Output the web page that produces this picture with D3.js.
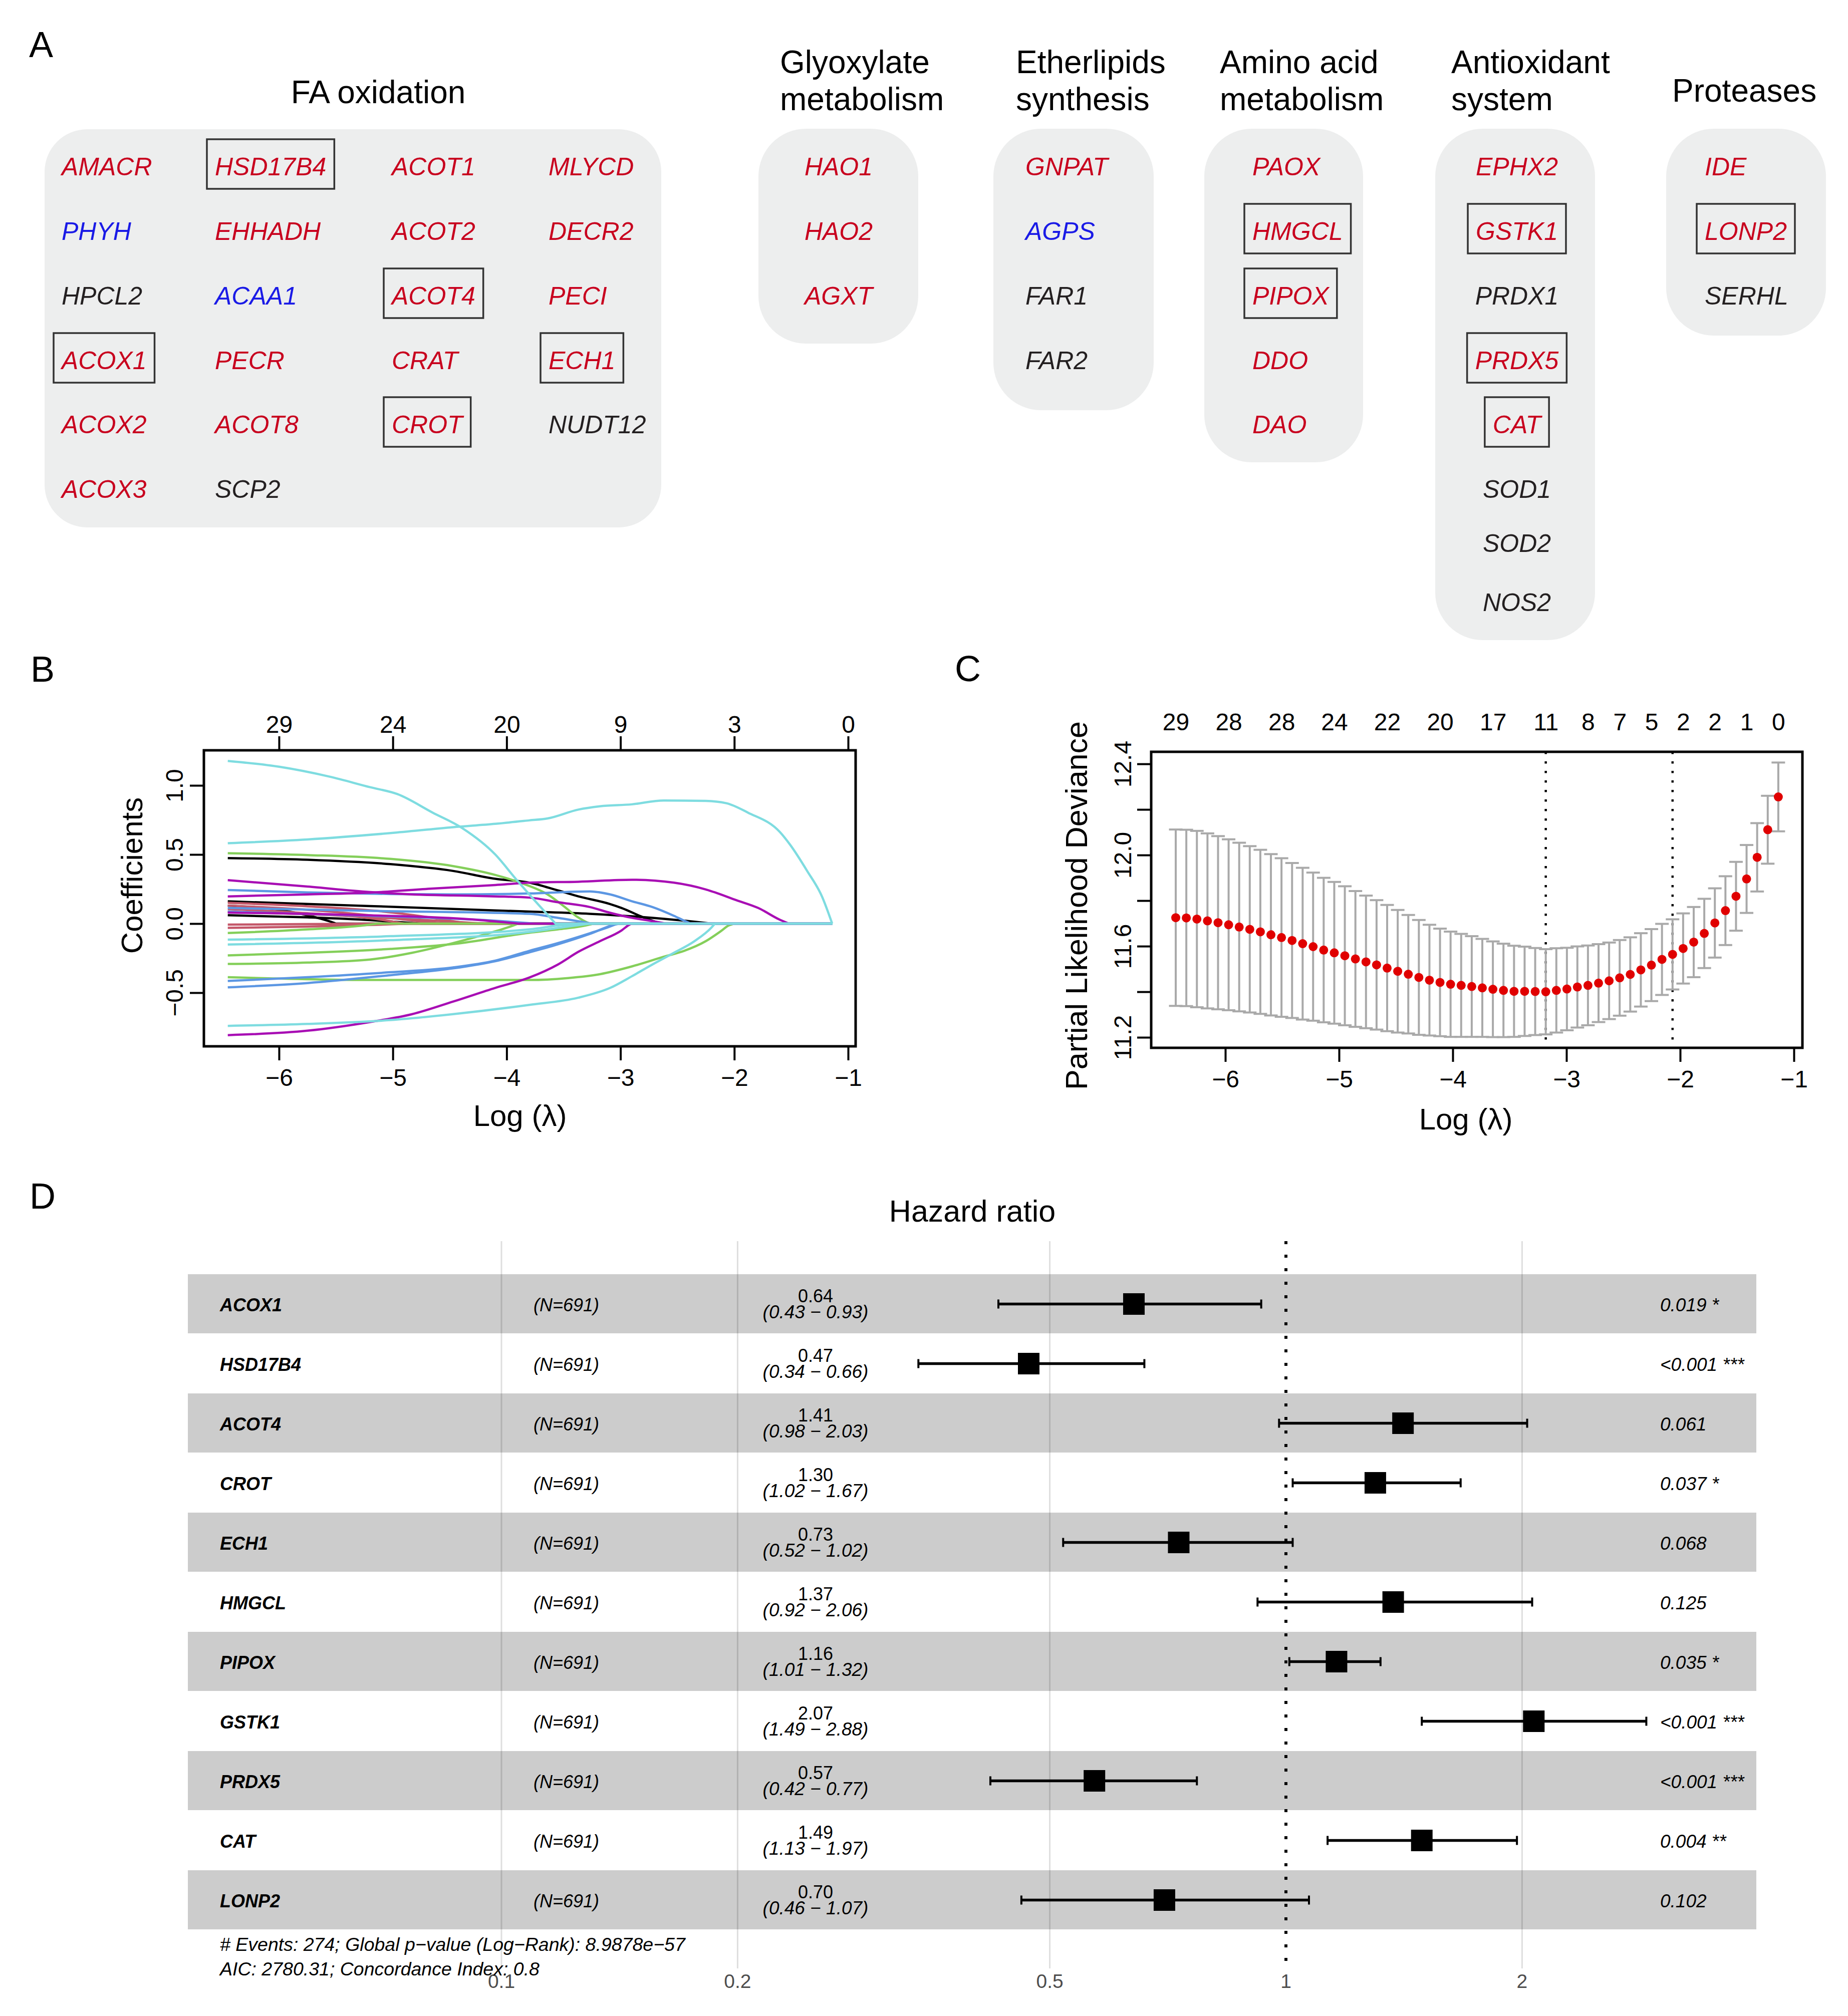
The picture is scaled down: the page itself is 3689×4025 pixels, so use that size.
<!DOCTYPE html>
<html lang="en">
<head>
<meta charset="UTF-8">
<title>Peroxisomal genes: LASSO and Cox model</title>
<script src="https://cdn.jsdelivr.net/npm/d3@7"></script>
<style>
  body { margin: 0; background: #fff; }
  svg { display: block; font-family: "Liberation Sans", Arial, Helvetica, sans-serif; }
</style>
</head>
<body>
<div id="chart"></div>
<script>
// ---------- data: panel A ----------
const faColumns = [
  ["AMACR", "PHYH", "HPCL2", "ACOX1", "ACOX2", "ACOX3"],
  ["HSD17B4", "EHHADH", "ACAA1", "PECR", "ACOT8", "SCP2"],
  ["ACOT1", "ACOT2", "ACOT4", "CRAT", "CROT"],
  ["MLYCD", "DECR2", "PECI", "ECH1", "NUDT12"]
];
const glyoxylateGenes = ["HAO1", "HAO2", "AGXT"];
const etherGenes = ["GNPAT", "AGPS", "FAR1", "FAR2"];
const aminoGenes = ["PAOX", "HMGCL", "PIPOX", "DDO", "DAO"];
const antioxGenes = ["EPHX2", "GSTK1", "PRDX1", "PRDX5", "CAT", "SOD1", "SOD2", "NOS2"];
const proteaseGenes = ["IDE", "LONP2", "SERHL"];
const blueGenes = ["PHYH", "ACAA1", "AGPS"];
const blackGenes = ["HPCL2", "SCP2", "NUDT12", "FAR1", "FAR2", "PRDX1", "SOD1", "SOD2", "NOS2", "SERHL"];
const boxedGenes = ["HSD17B4", "ACOT4", "ACOX1", "ECH1", "CROT", "HMGCL", "PIPOX", "GSTK1", "PRDX5", "CAT", "LONP2"];

// ---------- data: panel B (coefficient paths, [log lambda, coefficient]) ----------
const coefTicks = [-6, -5, -4, -3, -2, -1];
const coefTopLabels = ["29", "24", "20", "9", "3", "0"];
const coefYTicks = [-0.5, 0, 0.5, 1.0];
const coefPaths = [
  {col: "k", pts: [[-6.45,0.474],[-5.75,0.462],[-5.02,0.430],[-4.47,0.381],[-4.1,0.324],[-3.8,0.296],[-3.55,0.240],[-3.37,0.197],[-3.09,0.141],[-2.99,0.113],[-2.81,0.049],[-2.72,0.021],[-2.64,0]]},
  {col: "k", pts: [[-6.45,0.161],[-5.2,0.127],[-3.8,0.087],[-3.27,0.071],[-2.72,0.042],[-2.35,0.014],[-2.2,0]]},
  {col: "k", pts: [[-6.45,0.130],[-6.0,0.100],[-5.75,0.060],[-5.55,0.015],[-5.5,0]]},
  {col: "k", pts: [[-6.45,0.061],[-5.75,0.045],[-5.2,0.025],[-4.9,0.008],[-4.75,0]]},
  {col: "r", pts: [[-6.45,0.150],[-5.75,0.125],[-5.0,0.080],[-4.6,0.035],[-4.35,0]]},
  {col: "r", pts: [[-6.45,0.130],[-5.75,0.100],[-5.2,0.060],[-4.8,0.020],[-4.55,0]]},
  {col: "r", pts: [[-6.45,0.105],[-5.75,0.075],[-5.2,0.040],[-4.9,0]]},
  {col: "r", pts: [[-6.45,0.085],[-5.5,0.060],[-4.8,0.030],[-4.2,0]]},
  {col: "r", pts: [[-6.45,-0.007],[-5.8,-0.004],[-5.2,0]]},
  {col: "r", pts: [[-6.45,-0.031],[-5.75,-0.022],[-5.2,-0.010],[-4.85,0]]},
  {col: "g", pts: [[-6.45,0.509],[-5.75,0.496],[-5.02,0.468],[-4.47,0.416],[-4.1,0.352],[-3.88,0.296],[-3.64,0.211],[-3.5,0.127],[-3.38,0.049],[-3.29,0.007],[-3.27,0]]},
  {col: "g", pts: [[-6.45,-0.068],[-5.75,-0.042],[-5.2,-0.007],[-5.14,0]]},
  {col: "g", pts: [[-6.45,-0.230],[-5.75,-0.211],[-5.02,-0.183],[-4.47,-0.148],[-3.8,-0.066],[-3.55,-0.042],[-3.27,-0.007],[-3.24,0]]},
  {col: "g", pts: [[-6.45,-0.292],[-5.75,-0.282],[-5.2,-0.260],[-4.83,-0.211],[-4.47,-0.141],[-4.1,-0.056],[-3.92,-0.007],[-3.9,0]]},
  {col: "g", pts: [[-6.45,-0.388],[-5.2,-0.408],[-3.8,-0.408],[-3.46,-0.394],[-3.18,-0.366],[-2.9,-0.310],[-2.62,-0.240],[-2.44,-0.197],[-2.25,-0.127],[-2.12,-0.056],[-2.05,-0.014],[-2.0,0]]},
  {col: "b", pts: [[-6.45,0.243],[-5.75,0.226],[-5.02,0.214],[-4.47,0.211],[-3.8,0.218],[-3.27,0.233],[-3.09,0.211],[-2.9,0.162],[-2.72,0.120],[-2.53,0.056],[-2.44,0.021],[-2.38,0]]},
  {col: "b", pts: [[-6.45,0.113],[-5.2,0.092],[-3.8,0.071],[-3.55,0.042],[-3.25,0]]},
  {col: "b", pts: [[-6.45,0.087],[-5.2,0.056],[-4.1,0.021],[-3.75,0]]},
  {col: "b", pts: [[-6.45,-0.415],[-5.75,-0.388],[-5.02,-0.352],[-4.47,-0.317],[-4.1,-0.268],[-3.8,-0.197],[-3.55,-0.141],[-3.27,-0.070],[-3.09,-0.021],[-3.03,0]]},
  {col: "b", pts: [[-6.45,-0.461],[-5.75,-0.430],[-5.02,-0.373],[-4.47,-0.324],[-4.1,-0.272],[-3.8,-0.208],[-3.55,-0.150],[-3.27,-0.075],[-3.05,-0.007],[-3.0,0]]},
  {col: "m", pts: [[-6.45,0.314],[-5.75,0.268],[-5.2,0.228],[-4.83,0.211],[-4.47,0.204],[-4.1,0.197],[-3.8,0.188],[-3.55,0.155],[-3.27,0.120],[-3.09,0.078],[-2.9,0.042],[-2.72,0.018],[-2.6,0]]},
  {col: "m", pts: [[-6.45,0.197],[-5.75,0.211],[-5.16,0.226],[-4.65,0.254],[-4.1,0.279],[-3.8,0.296],[-3.37,0.303],[-2.9,0.317],[-2.53,0.296],[-2.25,0.247],[-1.98,0.169],[-1.79,0.113],[-1.6,0.028],[-1.52,0]]},
  {col: "m", pts: [[-6.45,0.080],[-5.2,0.060],[-4.3,0.030],[-3.9,0]]},
  {col: "m", pts: [[-6.45,-0.807],[-5.75,-0.775],[-5.2,-0.712],[-4.83,-0.655],[-4.47,-0.564],[-4.1,-0.465],[-3.8,-0.390],[-3.55,-0.296],[-3.37,-0.204],[-3.18,-0.127],[-2.99,-0.049],[-2.92,-0.007],[-2.9,0]]},
  {col: "c", pts: [[-6.45,1.177],[-6.0,1.135],[-5.56,1.064],[-5.2,0.987],[-4.96,0.937],[-4.65,0.803],[-4.39,0.691],[-4.1,0.500],[-3.92,0.324],[-3.8,0.210],[-3.57,0]]},
  {col: "c", pts: [[-6.45,0.582],[-5.75,0.609],[-5.02,0.655],[-4.47,0.698],[-4.1,0.722],[-3.8,0.747],[-3.64,0.761],[-3.37,0.825],[-3.18,0.849],[-2.9,0.863],[-2.62,0.891],[-2.25,0.888],[-2.07,0.871],[-1.88,0.803],[-1.6,0.663],[-1.51,0.571],[-1.36,0.381],[-1.23,0.197],[-1.14,0]]},
  {col: "c", pts: [[-6.45,-0.116],[-5.02,-0.091],[-3.8,-0.042],[-3.55,-0.014],[-3.37,0]]},
  {col: "c", pts: [[-6.45,-0.151],[-5.02,-0.120],[-3.8,-0.060],[-3.46,-0.021],[-3.27,0]]},
  {col: "c", pts: [[-6.45,-0.740],[-5.75,-0.726],[-5.02,-0.698],[-4.47,-0.655],[-3.8,-0.588],[-3.37,-0.536],[-3.09,-0.465],[-2.9,-0.381],[-2.72,-0.296],[-2.53,-0.211],[-2.35,-0.127],[-2.2,-0.028],[-2.17,0]]}
];

// ---------- data: panel C (cross-validation) ----------
const logLambda = [-6.436,-6.343,-6.250,-6.157,-6.064,-5.971,-5.878,-5.785,-5.692,-5.599,
  -5.506,-5.413,-5.320,-5.228,-5.135,-5.042,-4.949,-4.856,-4.763,-4.670,
  -4.577,-4.484,-4.391,-4.298,-4.205,-4.112,-4.019,-3.926,-3.833,-3.740,
  -3.647,-3.554,-3.461,-3.368,-3.275,-3.182,-3.089,-2.996,-2.904,-2.811,
  -2.718,-2.625,-2.532,-2.439,-2.346,-2.253,-2.160,-2.067,-1.974,-1.881,
  -1.788,-1.695,-1.602,-1.509,-1.416,-1.323,-1.230,-1.137];
const cvMean = [11.725,11.724,11.719,11.711,11.703,11.694,11.684,11.674,11.663,11.650,
  11.638,11.625,11.611,11.598,11.583,11.571,11.558,11.544,11.531,11.518,
  11.504,11.490,11.477,11.463,11.451,11.441,11.433,11.428,11.423,11.417,
  11.411,11.406,11.402,11.402,11.401,11.400,11.406,11.412,11.421,11.428,
  11.438,11.448,11.461,11.476,11.496,11.517,11.542,11.564,11.590,11.618,
  11.656,11.702,11.756,11.819,11.895,11.990,12.111,12.255];
const cvSE = [0.387,0.387,0.387,0.384,0.380,0.375,0.370,0.365,0.360,0.354,
  0.348,0.340,0.333,0.325,0.317,0.311,0.305,0.298,0.291,0.284,
  0.277,0.269,0.260,0.252,0.243,0.236,0.231,0.226,0.221,0.215,
  0.210,0.205,0.200,0.196,0.191,0.187,0.185,0.181,0.178,0.175,
  0.171,0.168,0.166,0.163,0.161,0.158,0.156,0.154,0.154,0.154,
  0.152,0.152,0.151,0.151,0.149,0.150,0.149,0.151];
const cvTopIdx = [0, 5, 10, 15, 20, 25, 30, 35, 39, 42, 45, 48, 51, 54, 57];
const cvTopLabels = ["29","28","28","24","22","20","17","11","8","7","5","2","2","1","0"];
const cvYTicks = [11.2, 11.4, 11.6, 11.8, 12.0, 12.2, 12.4];
const cvYLabeled = [11.2, 11.6, 12.0, 12.4];
const lambdaMinIdx = 35;
const lambda1seIdx = 47;

// ---------- data: panel D (Cox model) ----------
const coxGenes = ["ACOX1","HSD17B4","ACOT4","CROT","ECH1","HMGCL","PIPOX","GSTK1","PRDX5","CAT","LONP2"];
const coxN = [691,691,691,691,691,691,691,691,691,691,691];
const hr = [0.64,0.47,1.41,1.30,0.73,1.37,1.16,2.07,0.57,1.49,0.70];
const hrLow = [0.43,0.34,0.98,1.02,0.52,0.92,1.01,1.49,0.42,1.13,0.46];
const hrHigh = [0.93,0.66,2.03,1.67,1.02,2.06,1.32,2.88,0.77,1.97,1.07];
const pText = ["0.019 *","<0.001 ***","0.061","0.037 *","0.068","0.125","0.035 *","<0.001 ***","<0.001 ***","0.004 **","0.102"];
const hrTicks = [0.1, 0.2, 0.5, 1, 2];
const coxFooter = ["# Events: 274; Global p\u2212value (Log\u2212Rank): 8.9878e\u221257",
                   "AIC: 2780.31; Concordance Index: 0.8"];

// ---------- drawing ----------
const W = 3689, H = 4025;
const RED = "#c8001e", BLUE = "#1a1ae6", DARK = "#231f20";
const pathColors = {k: "#000000", r: "#c4586a", g: "#84cf5a", b: "#5c97e3", m: "#a80eb4", c: "#7edce0"};

const svg = d3.select("#chart").append("svg")
  .attr("width", W).attr("height", H)
  .attr("viewBox", `0 0 ${W} ${H}`);
svg.append("rect").attr("width", W).attr("height", H).attr("fill", "#fff");

function label(x, y, s) {
  svg.append("text").attr("x", x).attr("y", y).attr("font-size", 72).text(s);
}
label(58, 114, "A");
label(61, 1361, "B");
label(1906, 1360, "C");
label(59, 2413, "D");

// ===== Panel A =====
const gA = svg.append("g");
const rowY = [350, 479, 608, 737, 865, 994, 1102, 1220];
const geneColor = g => blueGenes.includes(g) ? BLUE : blackGenes.includes(g) ? DARK : RED;

function drawGene(name, x, y, anchor) {
  const t = gA.append("text")
    .attr("x", x).attr("y", y)
    .attr("text-anchor", anchor)
    .attr("font-size", 50).attr("font-style", "italic")
    .attr("fill", geneColor(name))
    .text(name);
  if (boxedGenes.includes(name)) {
    const w = t.node().getComputedTextLength();
    const left = anchor === "middle" ? x - w / 2 : x;
    gA.append("rect")
      .attr("x", left - 16).attr("y", y - 72)
      .attr("width", w + 32).attr("height", 99)
      .attr("fill", "none").attr("stroke", "#333").attr("stroke-width", 3.5);
  }
}

// FA oxidation block
gA.append("rect").attr("x", 89).attr("y", 258).attr("width", 1231).attr("height", 795)
  .attr("rx", 85).attr("ry", 85).attr("fill", "#edeeee");
gA.append("text").attr("x", 755).attr("y", 206).attr("text-anchor", "middle")
  .attr("font-size", 64).text("FA oxidation");
const faColX = [123, 429, 782, 1095];
faColumns.forEach((col, ci) => col.forEach((g, ri) => drawGene(g, faColX[ci], rowY[ri], "start")));

const groups = [
  {title: ["Glyoxylate", "metabolism"], genes: glyoxylateGenes, bx: 1514, bw: 319, bh: 429, tx: 1557, gx: 1674, anchor: "middle"},
  {title: ["Etherlipids", "synthesis"], genes: etherGenes, bx: 1983, bw: 320, bh: 562, tx: 2028, gx: 2047, anchor: "start"},
  {title: ["Amino acid", "metabolism"], genes: aminoGenes, bx: 2404, bw: 317, bh: 666, tx: 2435, gx: 2500, anchor: "start"},
  {title: ["Antioxidant", "system"], genes: antioxGenes, bx: 2865, bw: 319, bh: 1021, tx: 2897, gx: 3028, anchor: "middle"},
  {title: ["Proteases"], genes: proteaseGenes, bx: 3326, bw: 319, bh: 413, tx: 3338, gx: 3403, anchor: "start"}
];
groups.forEach(gr => {
  gA.append("rect").attr("x", gr.bx).attr("y", 257).attr("width", gr.bw).attr("height", gr.bh)
    .attr("rx", 95).attr("ry", 95).attr("fill", "#edeeee");
  if (gr.title.length === 2) {
    gr.title.forEach((s, i) => gA.append("text").attr("x", gr.tx).attr("y", 146 + i * 74)
      .attr("font-size", 64).text(s));
  } else {
    gA.append("text").attr("x", gr.tx).attr("y", 203).attr("font-size", 64).text(gr.title[0]);
  }
  gr.genes.forEach((g, i) => drawGene(g, gr.gx, rowY[i], gr.anchor));
});

// ===== shared axis styling =====
function styleAxis(g) {
  g.attr("font-size", 48).attr("font-family", null).attr("color", "#000");
  g.select(".domain").remove();
  g.selectAll(".tick line").attr("stroke-width", 4);
}

// ===== Panel B =====
const bX = d3.scaleLinear().domain([-6.66, -0.934]).range([407, 1708]);
const bY = d3.scaleLinear().domain([-0.888, 1.254]).range([2089, 1498]);
const gB = svg.append("g");
const lastLam = d3.max(logLambda);
const coefLine = d3.line().x(d => bX(d[0])).y(d => bY(d[1])).curve(d3.curveMonotoneX);
["k", "r", "g", "b", "m", "c"].forEach(c => {
  coefPaths.filter(p => p.col === c).forEach(p => {
    const last = p.pts[p.pts.length - 1];
    gB.append("path")
      .attr("d", coefLine(p.pts) + `L${bX(lastLam)},${bY(last[1])}`)
      .attr("fill", "none").attr("stroke", pathColors[c]).attr("stroke-width", 4.5)
      .attr("stroke-linejoin", "round");
  });
});
gB.append("g").attr("transform", "translate(0,2089)")
  .call(d3.axisBottom(bX).tickValues(coefTicks).tickFormat(d3.format("d")).tickSize(28))
  .call(styleAxis)
  .call(g => g.selectAll(".tick text").attr("y", 79).attr("dy", null));
gB.append("g").attr("transform", "translate(0,1498)")
  .call(d3.axisTop(bX).tickValues(coefTicks).tickFormat((d, i) => coefTopLabels[i]).tickSize(28))
  .call(styleAxis)
  .call(g => g.selectAll(".tick text").attr("y", -35).attr("dy", null));
gB.append("g").attr("transform", "translate(407,0)")
  .call(d3.axisLeft(bY).tickValues(coefYTicks).tickFormat(d3.format(".1f")).tickSize(28))
  .call(styleAxis)
  .call(g => g.selectAll(".tick text").attr("x", 0).attr("dy", null)
    .attr("text-anchor", "middle").attr("transform", "translate(-42,0) rotate(-90)"));
gB.append("rect").attr("x", 407).attr("y", 1498).attr("width", 1301).attr("height", 591)
  .attr("fill", "none").attr("stroke", "#000").attr("stroke-width", 5);
gB.append("text").attr("x", 1038).attr("y", 2248).attr("text-anchor", "middle")
  .attr("font-size", 60).text("Log (\u03bb)");
gB.append("text").attr("transform", "translate(284,1748) rotate(-90)").attr("text-anchor", "middle")
  .attr("font-size", 60).text("Coefficients");

// ===== Panel C =====
const cX = d3.scaleLinear().domain([-6.652, -0.925]).range([2298, 3598]);
const cY = d3.scaleLinear().domain([11.154, 12.453]).range([2092, 1501]);
const gC = svg.append("g");
[lambdaMinIdx, lambda1seIdx].forEach(i => {
  gC.append("line").attr("x1", cX(logLambda[i])).attr("x2", cX(logLambda[i]))
    .attr("y1", 1501).attr("y2", 2092)
    .attr("stroke", "#000").attr("stroke-width", 4.5).attr("stroke-dasharray", "4.5,14.5");
});
const cv = logLambda.map((l, i) => ({l, m: cvMean[i], lo: cvMean[i] - cvSE[i], hi: cvMean[i] + cvSE[i]}));
const eb = gC.append("g").attr("stroke", "#a9a9a9").attr("stroke-width", 4);
cv.forEach(d => {
  const x = cX(d.l);
  eb.append("line").attr("x1", x).attr("x2", x).attr("y1", cY(d.lo)).attr("y2", cY(d.hi));
  eb.append("line").attr("x1", x - 13.5).attr("x2", x + 13.5).attr("y1", cY(d.lo)).attr("y2", cY(d.lo));
  eb.append("line").attr("x1", x - 13.5).attr("x2", x + 13.5).attr("y1", cY(d.hi)).attr("y2", cY(d.hi));
});
gC.append("g").selectAll("circle").data(cv).join("circle")
  .attr("cx", d => cX(d.l)).attr("cy", d => cY(d.m)).attr("r", 9).attr("fill", "#e00000");
gC.append("g").attr("transform", "translate(0,2092)")
  .call(d3.axisBottom(cX).tickValues(coefTicks).tickFormat(d3.format("d")).tickSize(28))
  .call(styleAxis)
  .call(g => g.selectAll(".tick text").attr("y", 79).attr("dy", null));
gC.append("g").attr("transform", "translate(0,1501)")
  .call(d3.axisTop(cX).tickValues(cvTopIdx.map(i => logLambda[i])).tickFormat((d, i) => cvTopLabels[i]).tickSize(0))
  .call(styleAxis)
  .call(g => g.selectAll(".tick text").attr("y", -43).attr("dy", null));
gC.append("g").attr("transform", "translate(2298,0)")
  .call(d3.axisLeft(cY).tickValues(cvYTicks)
    .tickFormat(v => cvYLabeled.some(t => Math.abs(t - v) < 1e-6) ? d3.format(".1f")(v) : "").tickSize(28))
  .call(styleAxis)
  .call(g => g.selectAll(".tick text").attr("x", 0).attr("dy", null)
    .attr("text-anchor", "middle").attr("transform", "translate(-40,0) rotate(-90)"));
gC.append("rect").attr("x", 2298).attr("y", 1501).attr("width", 1300).attr("height", 591)
  .attr("fill", "none").attr("stroke", "#000").attr("stroke-width", 5);
gC.append("text").attr("x", 2926).attr("y", 2255).attr("text-anchor", "middle")
  .attr("font-size", 60).text("Log (\u03bb)");
gC.append("text").attr("transform", "translate(2170,1808) rotate(-90)").attr("text-anchor", "middle")
  .attr("font-size", 61).text("Partial Likelihood Deviance");

// ===== Panel D =====
const dX = d3.scaleLog().domain([0.1, 1]).range([1001, 2567]);
const dY = d3.scaleBand().domain(coxGenes).range([2544, 2544 + 119 * coxGenes.length]);
const gD = svg.append("g");
gD.append("text").attr("x", 1941).attr("y", 2439).attr("text-anchor", "middle")
  .attr("font-size", 61).text("Hazard ratio");
coxGenes.forEach((g, i) => {
  if (i % 2 === 0) {
    gD.append("rect").attr("x", 375).attr("y", dY(g)).attr("width", 3506 - 375)
      .attr("height", dY.bandwidth() - 1).attr("fill", "#cccccc");
  }
});
// grid lines
hrTicks.filter(t => t !== 1).forEach(t => {
  gD.append("line").attr("x1", dX(t)).attr("x2", dX(t)).attr("y1", 2478).attr("y2", 3930)
    .attr("stroke", "#000").attr("stroke-opacity", 0.13).attr("stroke-width", 3);
});
gD.append("line").attr("x1", dX(1)).attr("x2", dX(1)).attr("y1", 2478).attr("y2", 3930)
  .attr("stroke", "#000").attr("stroke-width", 6).attr("stroke-dasharray", "6,21");
coxGenes.forEach((g, i) => {
  const cy = dY(g) + dY.bandwidth() / 2;
  gD.append("text").attr("x", 439).attr("y", cy + 14).attr("font-size", 36)
    .attr("font-weight", "bold").attr("font-style", "italic").text(g);
  gD.append("text").attr("x", 1065).attr("y", cy + 14).attr("font-size", 36)
    .attr("font-style", "italic").text(`(N=${coxN[i]})`);
  gD.append("text").attr("x", 1628).attr("y", cy - 4).attr("font-size", 36)
    .attr("text-anchor", "middle").text(hr[i].toFixed(2));
  gD.append("text").attr("x", 1628).attr("y", cy + 28).attr("font-size", 37)
    .attr("text-anchor", "middle").attr("font-style", "italic")
    .text(`(${hrLow[i].toFixed(2)} \u2212 ${hrHigh[i].toFixed(2)})`);
  gD.append("text").attr("x", 3314).attr("y", cy + 14).attr("font-size", 37)
    .attr("font-style", "italic").text(pText[i]);
  // CI
  gD.append("line").attr("x1", dX(hrLow[i])).attr("x2", dX(hrHigh[i])).attr("y1", cy).attr("y2", cy)
    .attr("stroke", "#000").attr("stroke-width", 5.5);
  [hrLow[i], hrHigh[i]].forEach(v => gD.append("line")
    .attr("x1", dX(v)).attr("x2", dX(v)).attr("y1", cy - 9).attr("y2", cy + 9)
    .attr("stroke", "#000").attr("stroke-width", 4));
  gD.append("rect").attr("x", dX(hr[i]) - 21.5).attr("y", cy - 21.5)
    .attr("width", 43).attr("height", 43).attr("fill", "#000");
});
gD.append("g").selectAll("text").data(hrTicks).join("text")
  .attr("x", d => dX(d)).attr("y", 3969).attr("text-anchor", "middle")
  .attr("font-size", 39).attr("fill", "#4d4d4d").text(d => String(d));
coxFooter.forEach((s, i) => gD.append("text").attr("x", 439).attr("y", 3895 + i * 49)
  .attr("font-size", 37.5).attr("font-style", "italic").text(s));
</script>
</body>
</html>
